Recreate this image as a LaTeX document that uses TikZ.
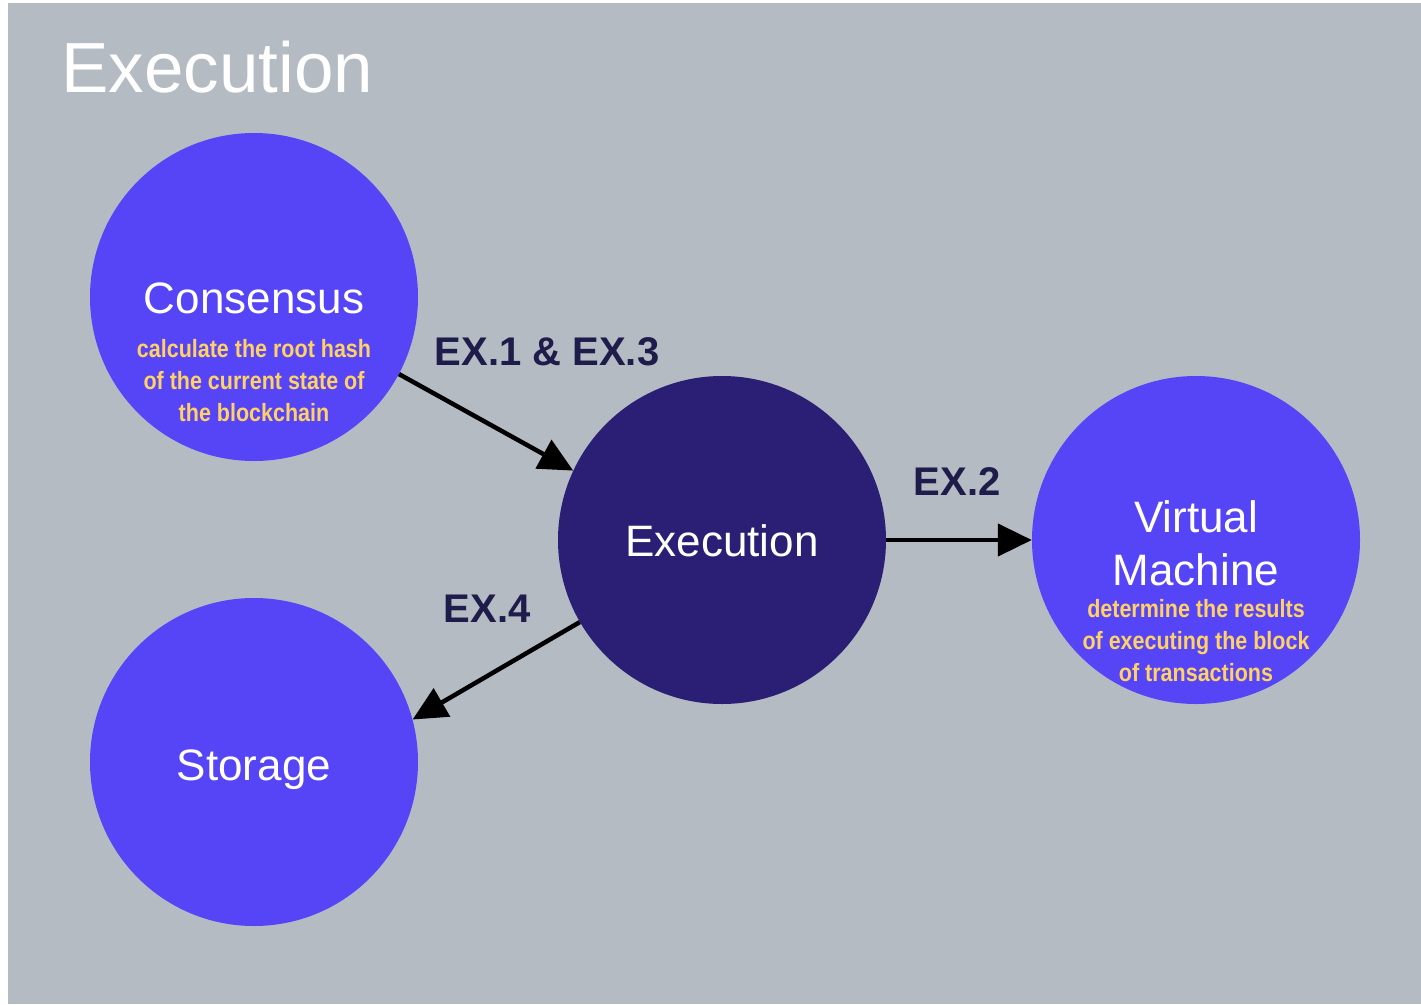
\documentclass[tikz,border=0pt]{standalone}
\usepackage{fontspec}
\setmainfont{Liberation Sans}
\newfontfamily\narrowfont[FakeStretch=0.86]{Liberation Sans}
\usetikzlibrary{arrows.meta}
\definecolor{bggray}{HTML}{B4BBC3}
\definecolor{lightviolet}{HTML}{5645F6}
\definecolor{darkviolet}{HTML}{2A1F75}
\definecolor{descyellow}{HTML}{FFD166}
\definecolor{labelnavy}{HTML}{1F1B4A}
\tikzset{
  bubble/.style={circle, minimum size=328pt, inner sep=0pt, fill=lightviolet},
  darkbubble/.style={bubble, fill=darkviolet},
  maintext/.style={text=white, inner sep=0pt, anchor=base, font=\fontsize{44}{52}\selectfont},
  desctext/.style={text=descyellow, inner sep=0pt, align=center, font=\narrowfont\bfseries\fontsize{25}{32}\selectfont},
  edgelabel/.style={text=labelnavy, inner sep=0pt, anchor=base, font=\bfseries\fontsize{40}{48}\selectfont},
  flow/.style={line width=4.5pt, black, -{Triangle[length=34pt,width=32pt]}}
}
\begin{document}
\begin{tikzpicture}[x=1pt, y=-1pt]
\useasboundingbox (0,0) rectangle (1421,1004);
\fill[bggray] (8,3) rectangle (1421,1004);
\node[text=white, inner sep=0pt, anchor=base west, font=\fontsize{71}{80}\selectfont] (title) at (61,92) {Execution};

\node[bubble] (cons) at (254,297) {};
\node[darkbubble] (exec) at (722,540) {};
\node[bubble] (vm) at (1196,540) {};
\node[bubble] (stor) at (254,762) {};

\node[maintext] (constitle) at (254,313) {Consensus};
\node[desctext] (consdesc) at (254,381) {calculate the root hash\\of the current state of\\the blockchain};
\node[maintext] (exectitle) at (722,556) {Execution};
\node[maintext] (vmtitle1) at (1196,532) {Virtual};
\node[maintext] (vmtitle2) at (1196,585) {Machine};
\node[desctext] (vmdesc) at (1196,641) {determine the results\\of executing the block\\of transactions};
\node[maintext] (stortitle) at (254,780) {Storage};

\draw[flow] (cons.-28) -- (exec.155);
\draw[flow] (exec) -- (vm);
\draw[flow] (exec.210) -- (stor.15);

\node[edgelabel] (l13) at (547,365) {EX.1 \& EX.3};
\node[edgelabel] (l2) at (957,495) {EX.2};
\node[edgelabel] (l4) at (487,622) {EX.4};
\end{tikzpicture}
\end{document}
